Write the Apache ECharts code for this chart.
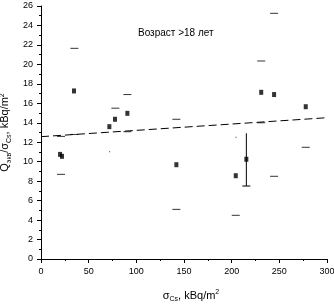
<!DOCTYPE html>
<html>
<head>
<meta charset="utf-8">
<script src="https://cdn.jsdelivr.net/npm/echarts@6/dist/echarts.min.js"></script>
<style>
  html, body { margin: 0; padding: 0; background: #fff; }
  #chart { width: 334px; height: 306px; }
</style>
</head>
<body>
<div id="chart"></div>
<script>
    // measured points: [sigma_Cs, Q/sigma]
    var points = [[20, 10.75], [22, 10.55], [34.6, 17.27], [71.7, 13.6], [77.6, 14.36],
                  [90.6, 14.97], [142, 9.69], [204.3, 8.56], [215.4, 10.25],
                  [231, 17.13], [244.5, 16.9], [277.7, 15.65]];
    // interval bounds drawn as dashes
    var bounds = [[21, 8.7], [21, 12.6], [35, 21.65], [35, 12.8], [78, 15.5],
                  [90.6, 16.9], [90.6, 13.08], [142, 14.36], [142, 5.1],
                  [204.3, 4.49], [231, 20.35], [231, 14.0], [244.5, 25.25],
                  [244.5, 8.5], [277.7, 11.48]];
    var dots = [[72, 11.03], [204.6, 12.5]];
    // error bar: [x, low, high]
    var errBars = [[215.4, 7.5, 12.92]];
    // regression line ends
    var fitLine = [[0, 12.57], [300, 14.52]];

    var font = "'Liberation Sans Narrow', 'Liberation Sans', Arial, sans-serif";
    var myChart = echarts.init(document.getElementById('chart'));
    var option = {
        animation: false,
        grid: { left: 41, right: 7, top: 6, bottom: 47, outerBoundsMode: 'none', containLabel: false },
        title: {
            text: 'Возраст >18 лет',
            left: 133, top: 23,
            textStyle: { fontSize: 10, fontWeight: 'normal', color: '#000', fontFamily: font }
        },
        xAxis: {
            type: 'value', min: 0, max: 300, interval: 50,
            name: '{n|σ}{s|Cs}{n|, kBq/m}{p|2}',
            nameLocation: 'middle', nameGap: 30,
            nameTextStyle: {
                padding: [0, 0, 0, 14],
                rich: {
                    n: { fontSize: 11, fontFamily: font, color: '#000' },
                    s: { fontSize: 7, fontFamily: font, color: '#000', verticalAlign: 'bottom', padding: [6, 0, 0, 0] },
                    p: { fontSize: 7, fontFamily: font, color: '#000', verticalAlign: 'top', padding: [0, 0, 7, 0] }
                }
            },
            splitLine: { show: false },
            axisLine: { lineStyle: { color: '#000', width: 1 } },
            axisTick: { length: 4, lineStyle: { color: '#000' } },
            minorTick: { show: true, splitNumber: 2, length: 2, lineStyle: { color: '#000' } },
            axisLabel: { margin: 8, fontSize: 9, color: '#000', fontFamily: font }
        },
        yAxis: {
            type: 'value', min: 0, max: 26, interval: 2,
            name: '{n|Q}{s|экв}{n|/σ}{s|Cs}{n|, kBq/m}{p|2}',
            nameLocation: 'middle', nameGap: 23,
            nameTextStyle: {
                rich: {
                    n: { fontSize: 11, fontFamily: font, color: '#000' },
                    s: { fontSize: 7, fontFamily: font, color: '#000', verticalAlign: 'bottom', padding: [6, 0, 0, 0] },
                    p: { fontSize: 7, fontFamily: font, color: '#000', verticalAlign: 'top', padding: [0, 0, 7, 0] }
                }
            },
            splitLine: { show: false },
            axisLine: { show: true, lineStyle: { color: '#000', width: 1 } },
            axisTick: { length: 4, lineStyle: { color: '#000' } },
            minorTick: { show: true, splitNumber: 2, length: 2, lineStyle: { color: '#000' } },
            axisLabel: { margin: 8, fontSize: 9, color: '#000', fontFamily: font }
        },
        series: [
            {
                type: 'line', data: fitLine, symbol: 'none', silent: true,
                lineStyle: { color: '#000', width: 1, type: [8, 4] }
            },
            {
                type: 'scatter', data: bounds, symbol: 'rect', symbolSize: [8, 1],
                itemStyle: { color: '#000' }
            },
            {
                type: 'scatter', data: dots, symbol: 'rect', symbolSize: [1, 1],
                itemStyle: { color: '#000' }
            },
            {
                type: 'custom', data: errBars,
                renderItem: function (params, api) {
                    var lo = api.coord([api.value(0), api.value(1)]);
                    var hi = api.coord([api.value(0), api.value(2)]);
                    var st = { stroke: '#000', lineWidth: 1 };
                    return {
                        type: 'group',
                        children: [
                            { type: 'line', shape: { x1: lo[0], y1: lo[1], x2: hi[0], y2: hi[1] }, style: st },
                            { type: 'line', shape: { x1: lo[0] - 4, y1: lo[1], x2: lo[0] + 4, y2: lo[1] }, style: st }
                        ]
                    };
                }
            },
            {
                type: 'scatter', data: points, symbol: 'rect', symbolSize: [4, 5],
                itemStyle: { color: '#000' }
            }
        ]
    };
    myChart.setOption(option);
</script>
</body>
</html>
